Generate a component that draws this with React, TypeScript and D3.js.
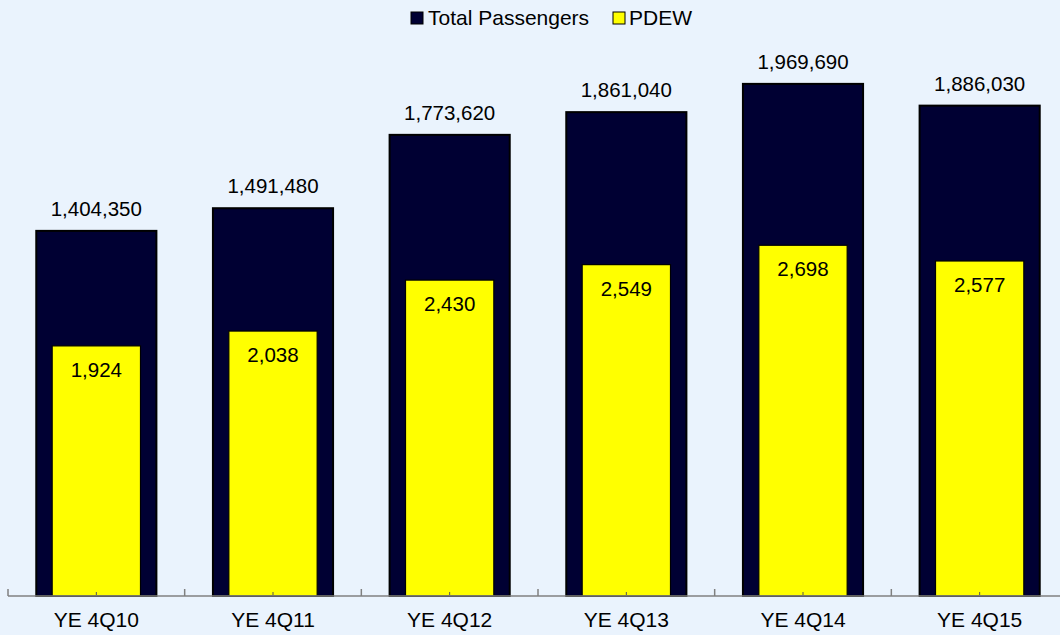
import React from "react";
import * as d3 from "d3";

const categories = ["YE 4Q10", "YE 4Q11", "YE 4Q12", "YE 4Q13", "YE 4Q14", "YE 4Q15"];
const totalPassengers = [1404350, 1491480, 1773620, 1861040, 1969690, 1886030];
const pdew = [1924, 2038, 2430, 2549, 2698, 2577];
const seriesNames = ["Total Passengers", "PDEW"];

const W = 1060;
const H = 635;
const FONT = "'Liberation Sans', Arial, sans-serif";

export default function App() {
  const x = d3.scaleBand<string>().domain(categories).range([8, 1068]).paddingInner(0).paddingOuter(0);
  const yTotal = d3.scaleLinear().domain([0, 2250000]).range([596, 11]);
  const yPdew = d3.scaleLinear().domain([0, 4500]).range([596, 11]);
  const fmt = d3.format(",");
  const bw = x.bandwidth();
  const outerW = bw * 0.68;
  const innerW = bw * 0.5;
  const axisY = yTotal(0);
  const boundaries = d3.range(categories.length + 1).map((i) => 8 + i * bw);

  return (
    <svg
      width={W}
      height={H}
      style={{ position: "fixed", left: 0, top: 0, display: "block" }}
      fontFamily={FONT}
    >
      <rect x={0} y={0} width={W} height={H} fill="#eaf3fd" />
      {categories.map((c, i) => {
        const cx = (x(c) as number) + bw / 2;
        return (
          <g key={c}>
            <rect
              x={cx - outerW / 2}
              y={yTotal(totalPassengers[i])}
              width={outerW}
              height={axisY - yTotal(totalPassengers[i])}
              fill="#000033"
              stroke="#000"
              strokeWidth={2}
            />
            <rect
              x={cx - innerW / 2}
              y={yPdew(pdew[i])}
              width={innerW}
              height={axisY - yPdew(pdew[i])}
              fill="#ffff00"
              stroke="#000"
              strokeWidth={1.2}
            />
            <text x={cx} y={yTotal(totalPassengers[i]) - 15} textAnchor="middle" fontSize={20.5} fill="#000">
              {fmt(totalPassengers[i])}
            </text>
            <text x={cx} y={yPdew(pdew[i]) + 31} textAnchor="middle" fontSize={20.5} fill="#000">
              {fmt(pdew[i])}
            </text>
            <text x={cx} y={627} textAnchor="middle" fontSize={21} fill="#000">
              {c}
            </text>
            <line x1={cx} x2={cx} y1={axisY} y2={axisY - 4} stroke="#555" strokeWidth={1} />
          </g>
        );
      })}
      <line x1={8} x2={W} y1={axisY} y2={axisY} stroke="#808080" strokeWidth={1.5} />
      {boundaries.map((bx, i) => (
        <line key={i} x1={bx} x2={bx} y1={axisY} y2={axisY - 7} stroke="#808080" strokeWidth={1.5} />
      ))}
      <g>
        <rect x={411} y={12} width={12} height={12} fill="#000033" stroke="#000" strokeWidth={1} />
        <text x={428} y={25} fontSize={21} fill="#000">{seriesNames[0]}</text>
        <rect x={613} y={12} width={12} height={12} fill="#ffff00" stroke="#000" strokeWidth={1} />
        <text x={629} y={25} fontSize={21} fill="#000">{seriesNames[1]}</text>
      </g>
    </svg>
  );
}
